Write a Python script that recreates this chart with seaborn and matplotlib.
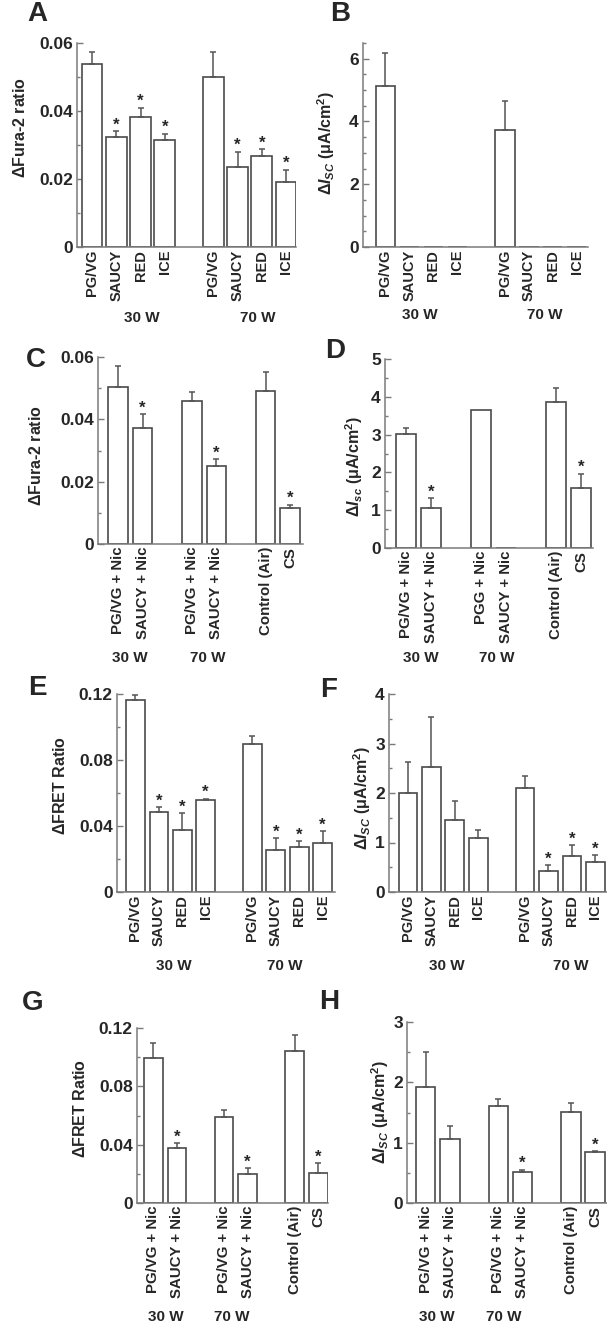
import numpy as np
import matplotlib
matplotlib.use("Agg")
import matplotlib.pyplot as plt
import matplotlib.transforms as mtransforms
from matplotlib.ticker import MultipleLocator
import seaborn as sns

sns.set_style("ticks")
plt.rcParams["font.family"] = ["Liberation Sans", "DejaVu Sans"]
plt.rcParams["font.weight"] = "bold"
plt.rcParams["mathtext.fontset"] = "custom"
plt.rcParams["mathtext.rm"] = "Liberation Sans:bold"
plt.rcParams["mathtext.it"] = "Liberation Sans:italic:bold"
plt.rcParams["mathtext.bf"] = "Liberation Sans:bold"

# ---- data ----
flavor_labels = ["PG/VG", "SAUCY", "RED", "ICE", "PG/VG", "SAUCY", "RED", "ICE"]
flavor_pos = [0, 1, 2, 3, 5, 6, 7, 8]
nic_labels = ["PG/VG + Nic", "SAUCY + Nic", "PG/VG + Nic", "SAUCY + Nic", "Control (Air)", "CS"]
nic_labels_d = ["PG/VG + Nic", "SAUCY + Nic", "PGG + Nic", "SAUCY + Nic", "Control (Air)", "CS"]
nic_pos = [0, 1, 3, 4, 6, 7]

a_mean = [0.0539, 0.0323, 0.0381, 0.0316, 0.0499, 0.0235, 0.0267, 0.0191]
a_top = [0.0573, 0.0341, 0.0410, 0.0333, 0.0573, 0.0280, 0.0287, 0.0227]
a_star = [0, 1, 1, 1, 0, 1, 1, 1]

b_mean = [5.14, 0, 0, 0, 3.74, 0, 0, 0]
b_top = [6.19, None, None, None, 4.64, None, None, None]
b_star = [0, 0, 0, 0, 0, 0, 0, 0]

c_mean = [0.0504, 0.0371, 0.0459, 0.0250, 0.0491, 0.0115]
c_top = [0.0570, 0.0417, 0.0487, 0.0272, 0.0552, 0.0126]
c_star = [0, 1, 0, 1, 0, 1]

d_mean = [3.02, 1.06, 3.66, 0, 3.85, 1.59]
d_top = [3.17, 1.32, None, None, 4.23, 1.97]
d_star = [0, 1, 0, 0, 0, 1]

e_mean = [0.1162, 0.0485, 0.0378, 0.0556, 0.0897, 0.0257, 0.0273, 0.0297]
e_top = [0.1192, 0.0515, 0.0479, 0.0566, 0.0947, 0.0325, 0.0307, 0.0368]
e_star = [0, 1, 1, 1, 0, 1, 1, 1]

f_mean = [2.00, 2.53, 1.45, 1.10, 2.11, 0.43, 0.73, 0.61]
f_top = [2.63, 3.54, 1.83, 1.26, 2.34, 0.54, 0.94, 0.74]
f_star = [0, 0, 0, 0, 0, 1, 1, 1]

g_mean = [0.0994, 0.0377, 0.0590, 0.0201, 0.1040, 0.0206]
g_top = [0.1097, 0.0411, 0.0635, 0.0238, 0.1154, 0.0274]
g_star = [0, 1, 0, 1, 0, 1]

h_mean = [1.92, 1.06, 1.61, 0.52, 1.51, 0.85]
h_top = [2.50, 1.28, 1.72, 0.55, 1.65, 0.86]
h_star = [0, 0, 0, 1, 0, 1]

fura = r"$\Delta$Fura-2 ratio"
fret = r"$\Delta$FRET Ratio"
isc_up = r"$\Delta I_{SC}$ (μA/cm$^2$)"
isc_lo = r"$\Delta I_{sc}$ (μA/cm$^2$)"

W, H = 607, 1329
fig = plt.figure(figsize=(W / 100, H / 100), dpi=100)

SPINE = "#7a7a7a"
EDGE = "#4a4a4a"
TICK_FS = 12.5


def panel(box, pos, mean, top, star, labels, xlim, ylim, major, minor, ylab,
          ylab_xy, letter, letter_xy, groups, width=0.8, yfmt=None, xl_fs=10.5):
    l, r, t, b = box
    ax = fig.add_axes([l / W, 1 - b / H, (r - l) / W, (b - t) / H])
    sns.barplot(x=pos, y=mean, native_scale=True, color="white", saturation=1,
                edgecolor=EDGE, linewidth=1.2, errorbar=None, width=width, ax=ax)
    ex = [p for p, tp in zip(pos, top) if tp is not None]
    em = [m for m, tp in zip(mean, top) if tp is not None]
    et = [tp for tp in top if tp is not None]
    up = np.array(et) - np.array(em)
    ax.errorbar(ex, em, yerr=[np.zeros_like(up), up], fmt="none", ecolor="#555555",
                elinewidth=1.1, capsize=2.5, capthick=1.1)
    for p, m, tp, s in zip(pos, mean, top, star):
        if s:
            ax.annotate("*", (p, tp if tp is not None else m), xytext=(0, -1),
                        textcoords="offset points", ha="center", va="bottom",
                        fontsize=12, fontweight="bold")
    ax.set_xlim(*xlim)
    ax.set_ylim(*ylim)
    ax.yaxis.set_major_locator(MultipleLocator(major))
    ax.yaxis.set_minor_locator(MultipleLocator(minor))
    if yfmt:
        ax.yaxis.set_major_formatter(yfmt)
    ax.set_xticks(pos)
    ax.set_xticklabels(labels, rotation=90, fontsize=xl_fs, fontweight="bold")
    ax.tick_params(axis="x", length=0, pad=2)
    ax.tick_params(axis="y", which="major", direction="in", length=4, width=1,
                   color=SPINE, labelsize=TICK_FS, pad=3)
    ax.tick_params(axis="y", which="minor", direction="in", length=2.5, width=1,
                   color=SPINE)
    for lab in ax.get_yticklabels():
        lab.set_fontweight("bold")
    sns.despine(ax=ax)
    for sp in ("left", "bottom"):
        ax.spines[sp].set_color(SPINE)
        ax.spines[sp].set_linewidth(1.1)
    ax.set_xlabel("")
    ax.set_ylabel("")
    fig.text(ylab_xy[0] / W, 1 - ylab_xy[1] / H, ylab, rotation=90, ha="center",
             va="center", fontsize=11.5, fontweight="bold")
    fig.text(letter_xy[0] / W, 1 - letter_xy[1] / H, letter, ha="center",
             va="center", fontsize=20, fontweight="bold")
    trans = mtransforms.blended_transform_factory(ax.transData, fig.transFigure)
    for gx, gy, gt in groups:
        ax.text(gx, 1 - gy / H, gt, transform=trans, ha="center", va="center",
                fontsize=11, fontweight="bold")
    return ax


def fmt_dec(v, _):
    return "0" if v == 0 else f"{v:.2f}"


def fmt_int(v, _):
    return f"{v:.0f}"


panel((77, 296, 43, 247), flavor_pos, a_mean, a_top, a_star, flavor_labels,
      (-0.62, 8.41), (0, 0.06), 0.02, 0.01, fura, (20, 128), "A", (37, 14),
      [(2.06, 318, "30 W"), (6.85, 318, "70 W")], width=0.85, yfmt=fmt_dec)
panel((363, 588, 43, 247), flavor_pos, b_mean, b_top, b_star, flavor_labels,
      (-0.94, 8.47), (0, 6.5), 2, 0.5, isc_up, (326, 143), "B", (340, 14),
      [(1.44, 315, "30 W"), (6.67, 315, "70 W")], yfmt=fmt_int)
panel((98, 303, 357, 544), nic_pos, c_mean, c_top, c_star, nic_labels,
      (-0.81, 7.52), (0, 0.06), 0.02, 0.01, fura, (36, 456), "C", (36, 360),
      [(0.49, 658, "30 W"), (3.66, 658, "70 W")], yfmt=fmt_dec, xl_fs=10.8)
panel((385, 593, 359, 548), nic_pos, d_mean, d_top, d_star, nic_labels_d,
      (-0.84, 7.48), (0, 5), 1, 0.5, isc_lo, (354, 467), "D", (335, 351),
      [(0.6, 658, "30 W"), (3.64, 658, "70 W")], yfmt=fmt_int, xl_fs=10.8)
panel((117, 335, 694, 892), flavor_pos, e_mean, e_top, e_star, flavor_labels,
      (-0.79, 8.53), (0, 0.12), 0.04, 0.02, fret, (60, 785), "E", (37, 688),
      [(1.65, 966, "30 W"), (6.39, 966, "70 W")], yfmt=fmt_dec)
panel((389, 607, 694, 892), flavor_pos, f_mean, f_top, f_star, flavor_labels,
      (-0.81, 8.5), (0, 4), 1, 0.5, isc_up, (362, 798), "F", (329, 690),
      [(1.67, 966, "30 W"), (6.97, 966, "70 W")], yfmt=fmt_int)
panel((137, 328, 1028, 1203), nic_pos, g_mean, g_top, g_star, nic_labels,
      (-0.70, 7.42), (0, 0.12), 0.04, 0.02, fret, (80, 1108), "G", (33, 1003),
      [(0.53, 1317, "30 W"), (3.34, 1317, "70 W")], yfmt=fmt_dec, xl_fs=10.8)
panel((407, 607, 1022, 1203), nic_pos, h_mean, h_top, h_star, nic_labels,
      (-0.77, 7.49), (0, 3), 1, 0.5, isc_up, (380, 1112), "H", (329, 1002),
      [(0.48, 1317, "30 W"), (3.23, 1317, "70 W")], yfmt=fmt_int, xl_fs=10.8)

fig.savefig("out.png", dpi=100)
